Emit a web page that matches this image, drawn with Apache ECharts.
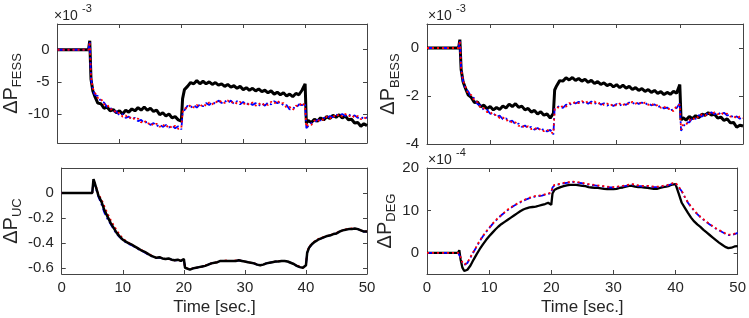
<!DOCTYPE html>
<html><head><meta charset="utf-8">
<script src="https://cdn.jsdelivr.net/npm/echarts@6/dist/echarts.min.js"></script>
<style>html,body{margin:0;padding:0;background:#fff}#c{width:749px;height:318px}</style>
</head><body><div id="c"></div>
<script>
// ---------- data ----------
const time = [0,1,2,3,4,5, 5.2,5.4,5.7,
 6,6.5,7,7.5,8,8.5,9,9.5,10,10.5,11,11.5,12,12.5,13,13.5,14,14.5,15,15.5,16,16.5,17,17.5,18,18.5,19,19.5,20,
 20.2,
 20.5,21,21.5,22,22.5,23,23.5,24,24.5,25,25.5,26,26.5,27,27.5,28,28.5,29,29.5,30,30.5,31,31.5,32,32.5,33,33.5,34,34.5,35,35.5,36,36.5,37,37.5,38,38.5,39,39.5,40,
 40.2,
 40.5,41,41.5,42,42.5,43,43.5,44,44.5,45,45.5,46,46.5,47,47.5,48,48.5,49,49.5,50];
const xTicks = [0,10,20,30,40,50];

// dP_FESS (x 1e-3)
const fessBlack = [0,0,0,0,0,0, 1.4,-4.6,-6.4,
 -7.2,-8.3,-8.4,-9.1,-8.9,-9.5,-9.3,-9.8,-9.5,-10.0,-9.4,-9.7,-9.2,-9.5,-9.0,-9.4,-8.9,-9.4,-9.1,-9.6,-9.4,-10.1,-9.8,-10.3,-10.0,-10.6,-10.4,-10.9,-11.1,
 -7.6,
 -6.2,-5.7,-5.1,-5.3,-4.8,-5.3,-4.9,-5.3,-5.0,-5.4,-5.1,-5.5,-5.3,-5.7,-5.4,-5.8,-5.6,-6.0,-5.7,-6.2,-5.9,-6.3,-6.0,-6.4,-6.1,-6.5,-6.3,-6.7,-6.4,-6.9,-6.6,-7.0,-6.7,-7.2,-6.9,-7.3,-6.8,-7.0,-6.3,-5.3,
 -11.4,
 -11.0,-11.3,-10.8,-11.1,-10.6,-10.9,-10.4,-10.7,-10.2,-10.5,-10.1,-10.6,-10.3,-10.9,-10.8,-11.4,-11.3,-11.9,-11.5,-11.8];
const fessRed = [0,0,0,0,0,0, 1.2,-4.3,-6.0,
 -6.6,-7.5,-7.6,-8.5,-8.5,-9.3,-9.2,-9.9,-9.8,-10.4,-10.2,-10.7,-10.4,-10.9,-10.7,-11.3,-11.0,-11.6,-11.3,-11.8,-11.5,-12.0,-11.6,-12.1,-11.7,-12.2,-11.8,-12.3,-12.2,
 -9.7,
 -9.1,-9.1,-8.6,-9.0,-8.6,-8.9,-8.4,-8.7,-8.2,-8.5,-8.0,-8.3,-7.9,-8.3,-7.9,-8.3,-8.0,-8.4,-8.1,-8.5,-8.2,-8.6,-8.2,-8.7,-8.3,-8.7,-8.3,-8.6,-8.1,-8.4,-7.9,-8.4,-8.3,-9.0,-8.9,-9.4,-8.7,-8.8,-8.2,-8.8,
 -12.0,
 -11.6,-11.7,-11.0,-11.2,-10.7,-10.9,-10.4,-10.7,-10.2,-10.5,-10.0,-10.4,-10.0,-10.4,-10.1,-10.6,-10.3,-10.8,-10.5,-10.8];
const fessBlue = [0,0,0,0,0,0, 1.3,-4.5,-6.2,
 -7.0,-7.2,-8.0,-8.2,-8.9,-9.0,-9.6,-9.6,-10.2,-10.0,-10.6,-10.4,-10.8,-10.6,-11.1,-10.9,-11.4,-11.2,-11.7,-11.4,-11.9,-11.6,-12.0,-11.7,-12.1,-11.8,-12.2,-11.9,-12.4,
 -9.9,
 -9.4,-8.7,-9.0,-8.6,-9.0,-8.5,-8.8,-8.3,-8.6,-8.1,-8.4,-7.9,-8.3,-7.9,-8.3,-7.9,-8.4,-8.0,-8.5,-8.1,-8.6,-8.2,-8.6,-8.3,-8.7,-8.3,-8.7,-8.2,-8.5,-8.0,-8.3,-8.1,-8.7,-8.6,-9.3,-9.0,-9.1,-8.5,-8.6,-8.4,
 -12.2,
 -11.9,-11.4,-11.3,-10.9,-11.0,-10.6,-10.7,-10.3,-10.5,-10.1,-10.3,-10.0,-10.3,-10.0,-10.4,-10.2,-10.6,-10.4,-10.8,-10.5];
const fessTicks = [-10,-5,0];

// dP_BESS (x 1e-3)
const bessBlack = [0,0,0,0,0,0, 0.35,-0.9,-1.4,
 -1.62,-1.95,-2.06,-2.27,-2.25,-2.45,-2.38,-2.53,-2.44,-2.58,-2.48,-2.56,-2.42,-2.5,-2.34,-2.44,-2.32,-2.47,-2.42,-2.58,-2.52,-2.67,-2.6,-2.75,-2.66,-2.8,-2.75,-2.92,-2.72,
 -1.75,
 -1.58,-1.36,-1.38,-1.24,-1.33,-1.23,-1.35,-1.27,-1.38,-1.3,-1.43,-1.35,-1.48,-1.4,-1.52,-1.45,-1.57,-1.5,-1.62,-1.53,-1.65,-1.55,-1.67,-1.6,-1.73,-1.65,-1.77,-1.69,-1.81,-1.73,-1.85,-1.77,-1.89,-1.82,-1.94,-1.85,-1.93,-1.81,-1.88,-1.52,
 -3.0,
 -2.9,-3.0,-2.85,-2.95,-2.82,-2.9,-2.76,-2.8,-2.7,-2.79,-2.76,-2.92,-2.88,-3.02,-2.95,-3.12,-3.1,-3.3,-3.22,-3.25];
const bessRed = [0,0,0,0,0,0, 0.3,-0.85,-1.35,
 -1.56,-1.9,-1.96,-2.2,-2.26,-2.5,-2.51,-2.67,-2.66,-2.81,-2.78,-2.92,-2.89,-3.03,-2.99,-3.13,-3.1,-3.25,-3.21,-3.33,-3.26,-3.38,-3.32,-3.43,-3.36,-3.47,-3.4,-3.51,-3.55,
 -2.55,
 -2.45,-2.52,-2.4,-2.44,-2.3,-2.34,-2.23,-2.3,-2.21,-2.3,-2.22,-2.31,-2.23,-2.34,-2.27,-2.38,-2.31,-2.41,-2.32,-2.41,-2.31,-2.39,-2.28,-2.35,-2.24,-2.32,-2.24,-2.35,-2.27,-2.37,-2.31,-2.43,-2.37,-2.49,-2.43,-2.56,-2.52,-2.64,-2.4,-2.37,
 -3.4,
 -3.2,-3.2,-3.0,-3.02,-2.85,-2.9,-2.76,-2.82,-2.7,-2.77,-2.68,-2.76,-2.69,-2.78,-2.73,-2.86,-2.83,-2.94,-2.86,-2.92];
const bessBlue = [0,0,0,0,0,0, 0.32,-0.88,-1.38,
 -1.64,-1.8,-2.04,-2.1,-2.34,-2.4,-2.59,-2.57,-2.74,-2.71,-2.86,-2.82,-2.97,-2.93,-3.07,-3.03,-3.18,-3.15,-3.29,-3.23,-3.34,-3.28,-3.4,-3.33,-3.44,-3.37,-3.48,-3.41,-3.6,
 -2.5,
 -2.55,-2.42,-2.5,-2.36,-2.4,-2.26,-2.31,-2.24,-2.31,-2.22,-2.32,-2.23,-2.33,-2.25,-2.36,-2.3,-2.4,-2.33,-2.42,-2.33,-2.4,-2.31,-2.37,-2.27,-2.33,-2.25,-2.33,-2.27,-2.36,-2.29,-2.39,-2.35,-2.46,-2.41,-2.52,-2.48,-2.6,-2.56,-2.5,-2.3,
 -3.45,
 -3.3,-3.1,-3.1,-2.92,-2.95,-2.8,-2.86,-2.72,-2.78,-2.68,-2.76,-2.68,-2.77,-2.7,-2.81,-2.78,-2.92,-2.85,-2.95,-2.86];
const bessTicks = [-4,-2,0];

// dP_UC
const ucBlack = [0,0,0,0,0,0, 0.11,0.08,0.03,
 -0.02,-0.07,-0.14,-0.19,-0.24,-0.28,-0.32,-0.35,-0.375,-0.39,-0.405,-0.415,-0.43,-0.445,-0.46,-0.47,-0.485,-0.5,-0.51,-0.52,-0.515,-0.525,-0.53,-0.525,-0.535,-0.54,-0.535,-0.545,-0.53,
 -0.6,
 -0.615,-0.615,-0.605,-0.6,-0.595,-0.59,-0.585,-0.575,-0.565,-0.56,-0.555,-0.545,-0.545,-0.545,-0.545,-0.545,-0.545,-0.54,-0.545,-0.55,-0.555,-0.56,-0.565,-0.575,-0.58,-0.575,-0.565,-0.56,-0.555,-0.55,-0.55,-0.545,-0.545,-0.55,-0.56,-0.57,-0.585,-0.595,-0.6,-0.58,
 -0.48,
 -0.44,-0.41,-0.39,-0.375,-0.365,-0.355,-0.345,-0.34,-0.33,-0.325,-0.31,-0.3,-0.295,-0.29,-0.29,-0.285,-0.29,-0.3,-0.31,-0.31];
const ucRed = [0,0,0,0,0,0, 0.1,0.08,0.04,
 -0.01,-0.05,-0.11,-0.165,-0.215,-0.26,-0.3,-0.335,-0.365,-0.385,-0.4,-0.415,-0.43,-0.445,-0.455,-0.47,-0.485,-0.495,-0.51,-0.52,-0.515,-0.525,-0.53,-0.53,-0.535,-0.54,-0.535,-0.545,-0.535,
 -0.6,
 -0.61,-0.61,-0.605,-0.6,-0.595,-0.59,-0.58,-0.575,-0.565,-0.56,-0.555,-0.545,-0.545,-0.54,-0.545,-0.545,-0.54,-0.54,-0.545,-0.55,-0.555,-0.56,-0.565,-0.57,-0.58,-0.575,-0.565,-0.56,-0.555,-0.55,-0.545,-0.545,-0.545,-0.55,-0.56,-0.57,-0.58,-0.59,-0.6,-0.58,
 -0.47,
 -0.43,-0.405,-0.385,-0.37,-0.36,-0.35,-0.345,-0.335,-0.33,-0.32,-0.31,-0.3,-0.29,-0.29,-0.285,-0.285,-0.29,-0.3,-0.305,-0.31];
const ucBlue = [0,0,0,0,0,0, 0.11,0.07,0.02,
 -0.03,-0.09,-0.16,-0.21,-0.25,-0.29,-0.33,-0.355,-0.38,-0.395,-0.41,-0.42,-0.435,-0.45,-0.46,-0.475,-0.49,-0.5,-0.515,-0.52,-0.52,-0.525,-0.53,-0.53,-0.535,-0.54,-0.54,-0.545,-0.535,
 -0.6,
 -0.615,-0.615,-0.605,-0.6,-0.595,-0.59,-0.585,-0.575,-0.565,-0.56,-0.555,-0.545,-0.545,-0.545,-0.545,-0.545,-0.545,-0.54,-0.545,-0.55,-0.555,-0.56,-0.565,-0.575,-0.58,-0.575,-0.565,-0.56,-0.555,-0.55,-0.55,-0.545,-0.545,-0.55,-0.56,-0.57,-0.585,-0.595,-0.6,-0.58,
 -0.48,
 -0.44,-0.41,-0.39,-0.375,-0.365,-0.355,-0.345,-0.34,-0.33,-0.325,-0.31,-0.3,-0.295,-0.29,-0.29,-0.285,-0.29,-0.3,-0.31,-0.31];
const ucTicks = [-0.6,-0.4,-0.2,0];

// dP_DEG (x 1e-4)
const degBlack = [0,0,0,0,0,0, 0.6,-1.5,-3.5,
 -4.3,-4.0,-3.0,-1.6,-0.3,0.9,2.0,3.0,3.9,4.7,5.5,6.2,6.8,7.3,7.8,8.3,8.8,9.3,9.8,10.2,10.5,10.7,10.8,10.9,11.1,11.3,11.5,11.8,11.3,
 14.0,
 14.8,15.2,15.5,15.7,15.9,16.0,16.0,16.0,15.9,15.8,15.7,15.5,15.4,15.3,15.3,15.2,15.1,15.0,15.0,15.0,15.1,15.3,15.4,15.6,15.8,15.8,15.6,15.5,15.5,15.4,15.3,15.2,15.1,15.1,15.3,15.5,15.6,15.8,16.1,16.2,
 16.0,
 14.0,11.8,10.6,9.4,8.3,7.4,6.7,6.1,5.4,4.8,4.2,3.6,3.0,2.4,1.9,1.4,1.1,1.2,1.5,1.6];
const degRed = [0,0,0,0,0,0, 0.3,-1.0,-2.3,
 -2.8,-2.3,-1.0,0.3,1.6,2.9,4.0,5.0,5.9,6.8,7.6,8.3,9.0,9.6,10.2,10.7,11.2,11.6,12.0,12.4,12.7,13.0,13.2,13.4,13.5,13.6,13.8,14.0,14.2,
 15.5,
 16.0,16.2,16.3,16.5,16.6,16.7,16.8,16.7,16.6,16.5,16.3,16.2,16.1,16.0,15.9,15.8,15.7,15.6,15.5,15.5,15.6,15.7,15.8,15.9,16.1,16.2,16.1,15.9,15.8,15.8,15.8,15.7,15.6,15.6,15.6,15.8,15.9,16.1,16.4,16.5,
 16.3,
 15.6,14.6,13.2,11.9,10.9,10.0,9.2,8.5,7.9,7.3,6.8,6.3,5.8,5.4,5.0,4.6,4.3,4.3,4.5,4.8];
const degBlue = [0,0,0,0,0,0, 0.3,-1.1,-2.4,
 -2.9,-2.4,-1.1,0.2,1.5,2.8,3.9,4.9,5.8,6.7,7.5,8.2,8.9,9.5,10.1,10.6,11.1,11.5,11.9,12.3,12.6,12.9,13.1,13.3,13.4,13.5,13.7,13.9,14.1,
 15.4,
 15.9,16.1,16.2,16.4,16.5,16.6,16.7,16.6,16.5,16.4,16.2,16.1,16.0,15.9,15.8,15.7,15.6,15.5,15.4,15.4,15.5,15.6,15.7,15.8,16.0,16.1,16.0,15.8,15.7,15.7,15.7,15.6,15.5,15.5,15.5,15.7,15.8,16.0,16.3,16.4,
 16.2,
 15.5,14.5,13.1,11.8,10.8,9.9,9.1,8.4,7.8,7.2,6.7,6.2,5.7,5.3,4.9,4.5,4.2,4.2,4.4,4.7];
const degTicks = [0,10,20];

// ---------- chart ----------
const FF = 'Liberation Sans, Arial, Helvetica, sans-serif';
const TXT = '#262626';
const AX = '#444444';

const panels = [
  {grid:{left:53, top:24, width:314, height:119}, min:-14.5, max:4, ticks:fessTicks, sub:'FESS', gap:27, xlab:false,
   black:fessBlack, red:fessRed, blue:fessBlue, exp:'-3', blackFirst:true, bw:3},
  {grid:{left:427, top:24, width:316, height:120}, min:-4, max:1, ticks:bessTicks, sub:'BESS', gap:20, xlab:false,
   black:bessBlack, red:bessRed, blue:bessBlue, exp:'-3', blackFirst:true, bw:3},
  {grid:{left:53, top:168, width:314, height:106}, min:-0.65, max:0.2, ticks:ucTicks, sub:'UC', gap:23, xlab:true,
   black:ucBlack, red:ucRed, blue:ucBlue, exp:null, blackFirst:false, bw:2.5},
  {grid:{left:427, top:168, width:316, height:106}, min:-5, max:20, ticks:degTicks, sub:'DEG', gap:24, xlab:true,
   black:degBlack, red:degRed, blue:degBlue, exp:'-4', blackFirst:true, bw:2.3}
];

const pairs = v => time.map((t, i) => [t, v[i]]);

const xAxes = [], yAxes = [], series = [], graphics = [];
panels.forEach((p, i) => {
  const tickStyle = {show:true, inside:true, length:4, lineStyle:{color:AX, width:1}};
  const lineStyle = {show:true, onZero:false, lineStyle:{color:AX, width:1}};
  xAxes.push({type:'value', gridIndex:i, position:'bottom', min:0, max:50, interval:10,
    axisLine:lineStyle, axisTick:tickStyle, splitLine:{show:false},
    axisLabel:{show:p.xlab, color:TXT, fontSize:15, fontFamily:FF, margin:6},
    name: p.xlab ? 'Time [sec.]' : '', nameLocation:'middle', nameGap:25,
    nameTextStyle:{color:TXT, fontSize:17, fontFamily:FF}});
  yAxes.push({type:'value', gridIndex:i, position:'left', min:p.min, max:p.max,
    axisLine:lineStyle, axisTick:Object.assign({customValues:p.ticks}, tickStyle), splitLine:{show:false},
    axisLabel:{show:true, customValues:p.ticks, color:TXT, fontSize:15, fontFamily:FF, margin:8},
    name:'{d|ΔP}{s|' + p.sub + '}', nameLocation:'middle', nameRotate:90, nameGap:p.gap,
    nameTextStyle:{color:TXT, fontFamily:FF,
      rich:{d:{fontSize:20, lineHeight:26, color:TXT, fontFamily:FF},
            s:{fontSize:13, lineHeight:12, verticalAlign:'bottom', color:TXT, fontFamily:FF}}}});
  const mk = (name, data, color, width, type, z) => ({
    name, type:'line', xAxisIndex:i, yAxisIndex:i, data:pairs(data), showSymbol:false, symbol:'none',
    lineStyle:{color, width, type}, z, animation:false});
  const blk = mk('black'+i, p.black, '#000000', p.bw, 'solid', p.blackFirst ? 2 : 5);
  const blu = mk('blue'+i, p.blue, '#0000ff', 1.8, [7,3,2,3], 3);
  const red = mk('red'+i, p.red, '#ff0000', 1.8, [2,3], 4);
  series.push(blk, blu, red);
  if (p.exp) {
    graphics.push({type:'text', x:p.grid.left + 1, y:p.grid.top - 8,
      style:{text:'×10', font:'14px ' + FF, fill:TXT, verticalAlign:'middle', align:'left'}});
    graphics.push({type:'text', x:p.grid.left + 29, y:p.grid.top - 15,
      style:{text:p.exp, font:'11px ' + FF, fill:TXT, verticalAlign:'middle', align:'left'}});
  }
});
panels.forEach((p, i) => {
  const tickStyle = {show:true, inside:true, length:4, lineStyle:{color:AX, width:1}};
  const lineStyle = {show:true, onZero:false, lineStyle:{color:AX, width:1}};
  xAxes.push({type:'value', gridIndex:i, position:'top', min:0, max:50, interval:10,
    axisLine:lineStyle, axisTick:tickStyle, axisLabel:{show:false}, splitLine:{show:false}});
  yAxes.push({type:'value', gridIndex:i, position:'right', min:p.min, max:p.max,
    axisLine:lineStyle, axisTick:Object.assign({customValues:p.ticks}, tickStyle),
    axisLabel:{show:false, customValues:p.ticks}, splitLine:{show:false}});
});

const chart = echarts.init(document.getElementById('c'), null, {renderer:'canvas'});
chart.setOption({
  animation:false,
  backgroundColor:'#ffffff',
  grid: panels.map(p => Object.assign({containLabel:false}, p.grid)),
  xAxis: xAxes,
  yAxis: yAxes,
  series: series,
  graphic: graphics
});
</script></body></html>
